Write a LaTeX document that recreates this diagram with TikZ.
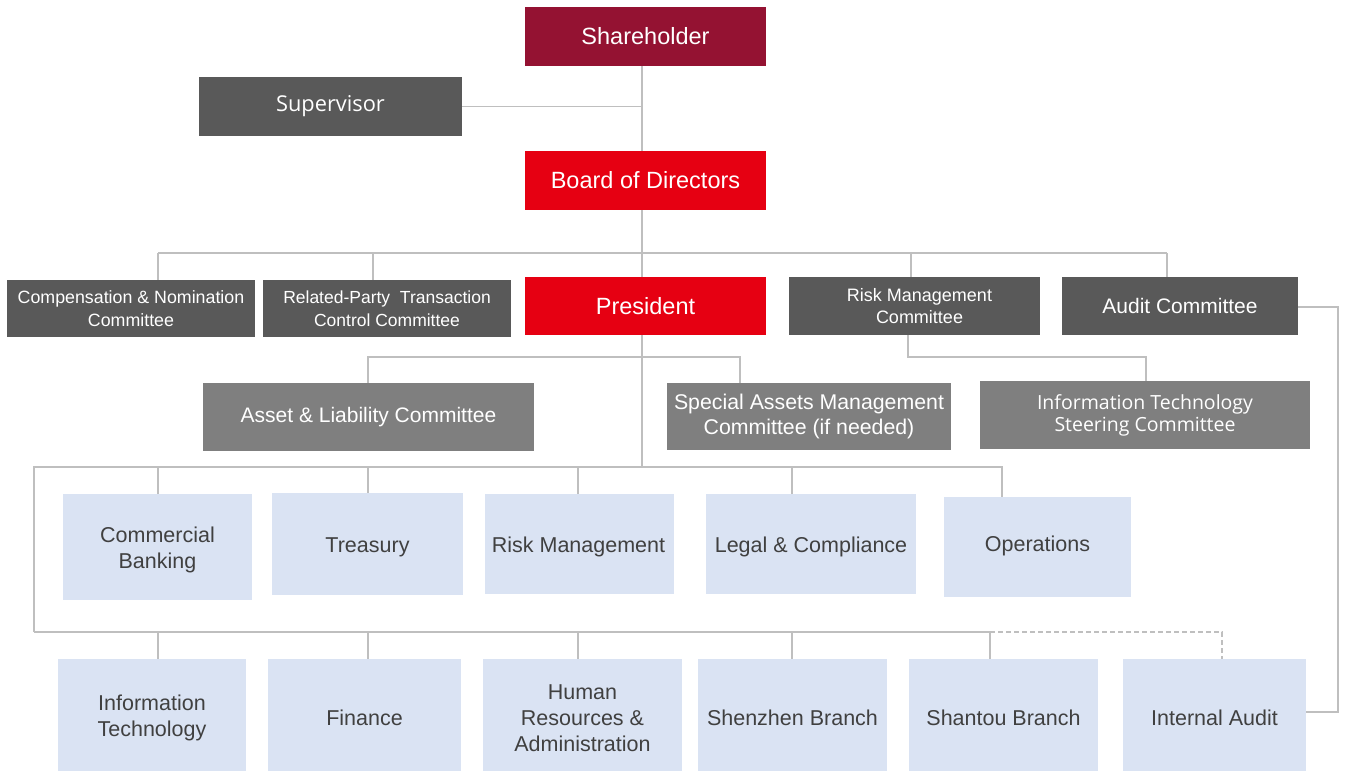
\documentclass[tikz,border=0pt]{standalone}
\usepackage{fontspec}
\setmainfont{Liberation Sans}
\newfontfamily\segoe{Open Sans}
\definecolor{shred}{HTML}{941232}
\definecolor{bred}{HTML}{E60012}
\definecolor{dgray}{HTML}{595959}
\definecolor{mgray}{HTML}{7F7F7F}
\definecolor{lblue}{HTML}{DAE3F3}
\definecolor{ltext}{HTML}{404040}
\definecolor{lncol}{HTML}{BFBFBF}
\begin{document}
\begin{tikzpicture}[x=1pt,y=-1pt,
  box/.style={inner sep=0pt,align=center,text=white},
  redbox/.style={box,fill=bred,font=\fontsize{23.5}{27}\selectfont},
  darkbox/.style={box,fill=dgray},
  midbox/.style={box,fill=mgray,font=\fontsize{21}{25}\selectfont},
  unitbox/.style={inner sep=0pt,fill=lblue},
  utext/.style={inner sep=0pt,align=center,text=ltext,font=\fontsize{21.5}{26}\selectfont,yshift=-3pt},
  conn/.style={draw=lncol,line width=1.3pt},
  dconn/.style={conn,dash pattern=on 5pt off 3pt}]
\useasboundingbox (0,0) rectangle (1349,771);
% top
\node[redbox,fill=shred,minimum width=241,minimum height=59] (sh) at (645.5,36.5) {Shareholder};
\node[darkbox,minimum width=263,minimum height=59,font=\segoe\fontsize{21.8}{25}\selectfont] (sup) at (330.5,106.5) {Supervisor};
\node[redbox,minimum width=241,minimum height=59] (bod) at (645.5,180.5) {Board of Directors};
% committees
\node[darkbox,minimum width=248,minimum height=57,font=\fontsize{17.8}{23}\selectfont] (comp) at (131,308.5) {Compensation \& Nomination\\Committee};
\node[darkbox,minimum width=248,minimum height=57,font=\fontsize{17.5}{23}\selectfont] (rpt) at (387,308.5) {Related-Party\ \ Transaction\\Control Committee};
\node[redbox,minimum width=241,minimum height=58] (pres) at (645.5,306) {President};
\node[darkbox,minimum width=251,minimum height=58,label={[box,font=\fontsize{18}{22}\selectfont,xshift=5pt]center:{Risk Management\\Committee}}] (rmc) at (914.5,306) {};
\node[darkbox,minimum width=236,minimum height=58,font=\fontsize{21}{24}\selectfont] (audit) at (1180,306) {Audit Committee};
\node[midbox,minimum width=331,minimum height=68] (alc) at (368.5,417) {Asset \& Liability Committee};
\node[midbox,minimum width=284,minimum height=67,font=\fontsize{21.3}{25}\selectfont] (sam) at (809,416.5) {Special Assets Management\\Committee (if needed)};
\node[midbox,minimum width=330,minimum height=68,font=\segoe\fontsize{19.5}{22}\selectfont] (its) at (1145,415) {Information Technology\\Steering Committee};
% row 1
\node[unitbox,minimum width=189,minimum height=106,label={[utext]center:{Commercial\\Banking}}] (cb) at (157.5,547) {};
\node[unitbox,minimum width=191,minimum height=102,label={[utext]center:Treasury}] (tr) at (367.5,544) {};
\node[unitbox,minimum width=189,minimum height=100,label={[utext,xshift=-1pt]center:Risk Management}] (rm) at (579.5,544) {};
\node[unitbox,minimum width=210,minimum height=100,label={[utext]center:{Legal \& Compliance}}] (lc) at (811,544) {};
\node[unitbox,minimum width=187,minimum height=100,label={[utext,yshift=4pt]center:Operations}] (op) at (1037.5,547) {};
% row 2
\node[unitbox,minimum width=188,minimum height=112,label={[utext]center:{Information\\Technology}}] (it) at (152,715) {};
\node[unitbox,minimum width=193,minimum height=112,label={[utext]center:Finance}] (fin) at (364.5,715) {};
\node[unitbox,minimum width=199,minimum height=112,label={[utext]center:{Human\\Resources \&\\Administration}}] (hr) at (582.5,715) {};
\node[unitbox,minimum width=189,minimum height=112,label={[utext]center:{Shenzhen Branch}}] (sz) at (792.5,715) {};
\node[unitbox,minimum width=189,minimum height=112,label={[utext]center:{Shantou Branch}}] (st) at (1003.5,715) {};
\node[unitbox,minimum width=183,minimum height=112,label={[utext]center:{Internal Audit}}] (ia) at (1214.5,715) {};
% coordinates
\coordinate (tr0) at (642,0);
\coordinate (h1) at (158,253);
\coordinate (h2) at (373,253);
\coordinate (h3) at (911,253);
\coordinate (h4) at (1167,253);
\coordinate (p1) at (368,357);
\coordinate (p2) at (740,357);
\coordinate (r1) at (908,357);
\coordinate (r2) at (1146,357);
\coordinate (a1) at (1338,307);
\coordinate (a2) at (1338,712);
\coordinate (u0) at (34,467);
\coordinate (u1) at (158,467);
\coordinate (u2) at (368,467);
\coordinate (u3) at (578,467);
\coordinate (u4) at (792,467);
\coordinate (u5) at (1002,467);
\coordinate (l0) at (34,632);
\coordinate (l1) at (158,632);
\coordinate (l2) at (368,632);
\coordinate (l3) at (578,632);
\coordinate (l4) at (792,632);
\coordinate (l5) at (990,632);
\coordinate (l6) at (1222,632);
% connectors
\draw[conn] (sh.south -| tr0) -- (bod.north -| tr0);
\draw[conn] (sup.east) -- (sup.east -| tr0);
\draw[conn] (bod.south -| tr0) -- (pres.north -| tr0);
\draw[conn] (h1) -- (h4);
\draw[conn] (h1) -- (h1 |- comp.north);
\draw[conn] (h2) -- (h2 |- rpt.north);
\draw[conn] (h3) -- (h3 |- rmc.north);
\draw[conn] (h4) -- (h4 |- audit.north);
\draw[conn] (pres.south -| tr0) -- (u0 -| tr0);
\draw[conn] (p1 |- alc.north) -- (p1) -- (p2) -- (p2 |- sam.north);
\draw[conn] (r1 |- rmc.south) -- (r1) -- (r2) -- (r2 |- its.north);
\draw[conn] (audit.east |- a1) -- (a1) -- (a2) -- (ia.east |- a2);
\draw[conn] (l0) -- (u0) -- (u5) -- (u5 |- op.north);
\draw[conn] (u1) -- (u1 |- cb.north);
\draw[conn] (u2) -- (u2 |- tr.north);
\draw[conn] (u3) -- (u3 |- rm.north);
\draw[conn] (u4) -- (u4 |- lc.north);
\draw[conn] (l0) -- (l5) -- (l5 |- st.north);
\draw[conn] (l1) -- (l1 |- it.north);
\draw[conn] (l2) -- (l2 |- fin.north);
\draw[conn] (l3) -- (l3 |- hr.north);
\draw[conn] (l4) -- (l4 |- sz.north);
\draw[dconn] (l5) -- (l6) -- (l6 |- ia.north);
\end{tikzpicture}
\end{document}
